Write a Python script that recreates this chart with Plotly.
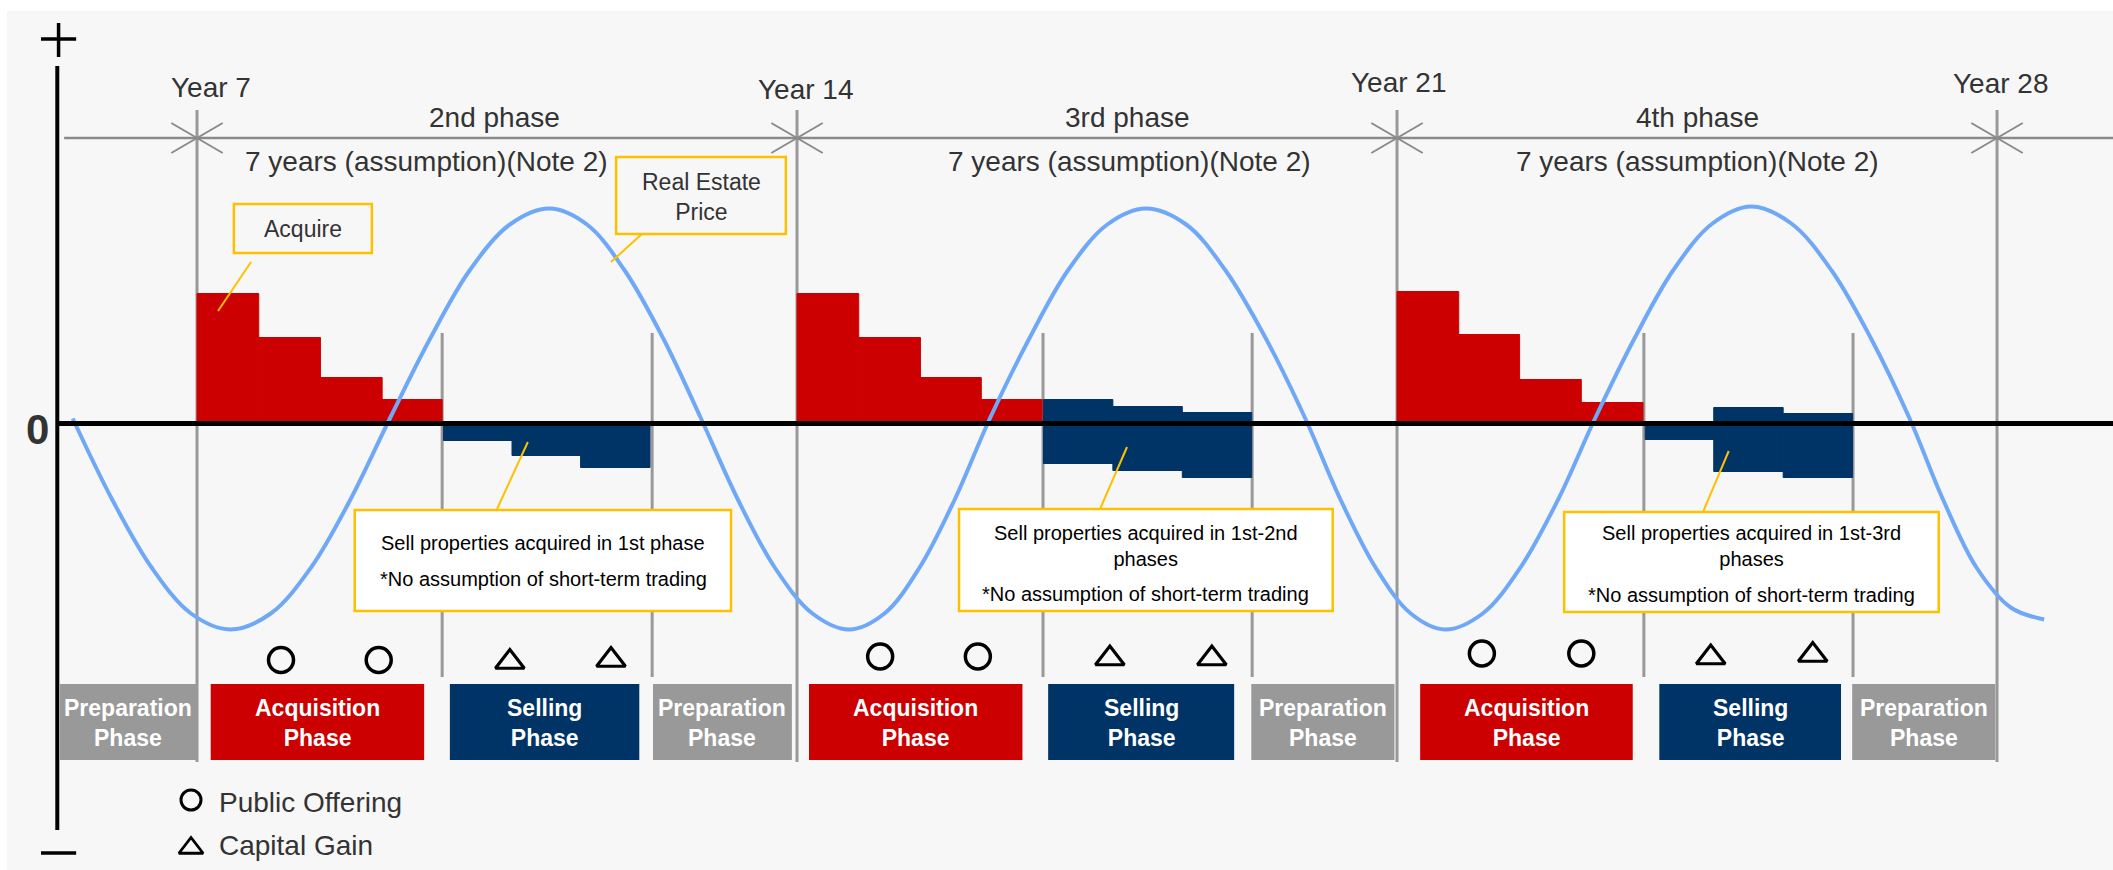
import plotly.graph_objects as go

# acquisitions (red bars), by year position on the timeline
acq_year = [7.36, 8.08, 8.80, 9.50, 14.36, 15.08, 15.79, 16.50, 21.36, 22.07, 22.79, 23.51]
acq_value = [1.30, 0.86, 0.46, 0.24, 1.30, 0.86, 0.46, 0.24, 1.32, 0.89, 0.44, 0.21]

# sales (navy bars) are floating: top and bottom of each block
sell_year = [10.28, 11.08, 11.88, 17.28, 18.09, 18.90, 24.30, 25.10, 25.91]
sell_top = [0, 0, 0, 0.24, 0.17, 0.11, 0, 0.16, 0.10]
sell_bottom = [-0.17, -0.32, -0.44, -0.40, -0.47, -0.54, -0.16, -0.48, -0.54]

# real estate price cycle
price_year = [5.55, 6.01, 6.47, 6.93, 7.39, 7.86, 8.33, 8.79, 9.25, 9.72, 10.18, 10.65,
              11.11, 11.55, 11.99, 12.44, 12.88, 13.31, 13.74, 14.18, 14.61, 15.02,
              15.43, 15.84, 16.25, 16.71, 17.16, 17.62, 18.07, 18.54, 19.00, 19.47,
              19.93, 20.34, 20.75, 21.16, 21.56, 22.00, 22.44, 22.88, 23.31, 23.77,
              24.22, 24.68, 25.13, 25.60, 26.07, 26.53, 26.98, 27.37, 27.76, 28.16, 28.55]
price_value = [0.05, -0.76, -1.44, -1.90, -2.06, -1.90, -1.44, -0.76, 0.05, 0.85, 1.53, 1.99,
               2.15, 1.99, 1.53, 0.85, 0.05, -0.76, -1.44, -1.90, -2.06, -1.90,
               -1.44, -0.76, 0.05, 0.85, 1.53, 1.99, 2.15, 1.99, 1.53, 0.85,
               0.05, -0.76, -1.44, -1.90, -2.06, -1.90, -1.44, -0.76, 0.05, 0.85,
               1.53, 2.00, 2.17, 2.00, 1.53, 0.85, 0.05, -0.76, -1.44, -1.84, -1.96]

# public offerings (circles) and capital gains (triangles)
offering_year = [7.98, 9.12, 14.97, 16.11, 21.99, 23.15]
offering_value = [-2.365, -2.365, -2.33, -2.33, -2.30, -2.30]
gain_year = [10.65, 11.83, 17.65, 18.84, 24.66, 25.85]
gain_value = [-2.385, -2.365, -2.35, -2.35, -2.34, -2.315]

milestone_year = [7, 14, 21, 28]
milestone_label = ["Year 7", "Year 14", "Year 21", "Year 28"]
milestone_height = [3.36, 3.345, 3.415, 3.405]
phase_label = ["2nd phase", "3rd phase", "4th phase"]
phase_center = [10.47, 17.85, 24.50]
duration_center = [9.68, 17.88, 24.50]
separator_year = [9.86, 12.31, 16.87, 19.31, 23.88, 26.32]

block_start = [5.40, 7.16, 9.95, 12.32, 14.14, 16.93, 19.30, 21.27, 24.06, 26.31]
block_end = [7.00, 9.65, 12.16, 13.94, 16.63, 19.10, 20.97, 23.75, 26.18, 27.98]
block_kind = ["prep", "acq", "sell", "prep", "acq", "sell", "prep", "acq", "sell", "prep"]

RED = "#CC0000"
NAVY = "#003366"
GREY = "#999999"
YELLOW = "#FFC000"
TEXT = "#333333"
FONT = "Liberation Sans, Arial, sans-serif"

block_color = {"prep": GREY, "acq": RED, "sell": NAVY}
block_text = {"prep": "Preparation<br>Phase", "acq": "Acquisition<br>Phase", "sell": "Selling<br>Phase"}

fig = go.Figure()

# thin outline in the fill colour hides the seams between neighbouring bars
fig.add_trace(go.Bar(x=acq_year, y=acq_value, width=0.72,
                     marker=dict(color=RED, line=dict(width=1, color=RED))))
fig.add_trace(go.Bar(x=sell_year,
                     y=[t - b for t, b in zip(sell_top, sell_bottom)],
                     base=sell_bottom, width=0.81,
                     marker=dict(color=NAVY, line=dict(width=1, color=NAVY))))
fig.add_trace(go.Scatter(x=price_year, y=price_value, mode="lines",
                         line=dict(color="#6FA8F7", width=4, shape="spline", smoothing=1.0)))
fig.add_trace(go.Scatter(x=offering_year, y=offering_value, mode="markers",
                         marker=dict(symbol="circle-open", size=25, color="black",
                                     line=dict(width=3.5))))
fig.add_trace(go.Scatter(x=gain_year, y=gain_value, mode="markers",
                         marker=dict(symbol="triangle-up-open", size=25, color="black",
                                     line=dict(width=3.2))))
# legend glyphs
fig.add_trace(go.Scatter(x=[6.93], y=[-3.765], mode="markers",
                         marker=dict(symbol="circle-open", size=20, color="black",
                                     line=dict(width=3))))
fig.add_trace(go.Scatter(x=[6.93], y=[-4.245], mode="markers",
                         marker=dict(symbol="triangle-up-open", size=21, color="black",
                                     line=dict(width=2.8))))

shapes = []


def line(x0, y0, x1, y1, color, width, layer="above"):
    shapes.append(dict(type="line", xref="x", yref="y", x0=x0, y0=y0, x1=x1, y1=y1,
                       line=dict(color=color, width=width), layer=layer))


def rect(x0, y0, x1, y1, fill, border=None, width=0, layer="above"):
    shapes.append(dict(type="rect", xref="x", yref="y", x0=x0, y0=y0, x1=x1, y1=y1,
                       fillcolor=fill, line=dict(color=border or fill, width=width),
                       layer=layer))


# vertical guide lines
for yr in milestone_year:
    line(yr, 3.135, yr, -3.385, GREY, 3, layer="below")
for yr in separator_year:
    line(yr, 0.905, yr, -2.535, GREY, 3, layer="below")

# dimension line with x marks
line(5.45, 2.855, 29.5, 2.855, "#8A8A8A", 2.5, layer="below")
for yr in milestone_year:
    line(yr - 0.30, 3.005, yr + 0.30, 2.705, "#8A8A8A", 2)
    line(yr - 0.30, 2.705, yr + 0.30, 3.005, "#8A8A8A", 2)

# axes drawn by hand
line(5.37, 0, 29.5, 0, "black", 5)
line(5.37, 3.575, 5.37, -4.065, "black", 4)
line(5.18, 3.845, 5.59, 3.845, "black", 3.5)
line(5.385, 4.005, 5.385, 3.665, "black", 3.5)
line(5.18, -4.295, 5.59, -4.295, "black", 3.5)

# callouts
rect(7.43, 2.195, 9.04, 1.705, "rgba(0,0,0,0)", YELLOW, 2.5)
line(7.63, 1.615, 7.245, 1.125, YELLOW, 2)
rect(11.89, 2.665, 13.87, 1.895, "rgba(0,0,0,0)", YELLOW, 2.5)
line(12.19, 1.895, 11.83, 1.615, YELLOW, 2)

rect(8.84, -0.865, 13.23, -1.875, "white", YELLOW, 2.5)
line(10.86, -0.185, 10.50, -0.855, YELLOW, 2)
rect(15.89, -0.855, 20.25, -1.875, "white", YELLOW, 2.5)
line(17.85, -0.235, 17.535, -0.855, YELLOW, 2)
rect(22.95, -0.885, 27.32, -1.885, "white", YELLOW, 2.5)
line(24.87, -0.275, 24.57, -0.885, YELLOW, 2)

# phase blocks
for s, e, k in zip(block_start, block_end, block_kind):
    rect(s, -2.605, e, -3.365, block_color[k])

annotations = []


def text(x, y, s, size, color=TEXT, bold=False, xanchor="center"):
    if bold:
        s = "<b>" + s + "</b>"
    annotations.append(dict(x=x, y=y, xref="x", yref="y", text=s, showarrow=False,
                            xanchor=xanchor, yanchor="middle",
                            font=dict(family=FONT, size=size, color=color)))


text(7.16, milestone_height[0], milestone_label[0], 28)
text(14.10, milestone_height[1], milestone_label[1], 28)
text(21.02, milestone_height[2], milestone_label[2], 28)
text(28.05, milestone_height[3], milestone_label[3], 28)
for xc, lab in zip(phase_center, phase_label):
    text(xc, 3.065, lab, 28)
for xc in duration_center:
    text(xc, 2.625, "7 years (assumption)(Note 2)", 28)

text(5.14, -0.055, "0", 42, bold=True)

text(8.24, 1.945, "Acquire", 23)
text(12.88, 2.27, "Real Estate<br>Price", 23)

text(11.04, -1.195, "Sell properties acquired in 1st phase", 20, color="black")
text(11.04, -1.555, "*No assumption of short-term trading", 20, color="black")
text(18.07, -1.22, "Sell properties acquired in 1st-2nd<br>phases", 20, color="black")
text(18.07, -1.705, "*No assumption of short-term trading", 20, color="black")
text(25.13, -1.225, "Sell properties acquired in 1st-3rd<br>phases", 20, color="black")
text(25.13, -1.715, "*No assumption of short-term trading", 20, color="black")

for s, e, k in zip(block_start, block_end, block_kind):
    text((s + e) / 2, -2.995, block_text[k], 23, color="white", bold=True)

text(7.23, -3.785, "Public Offering", 28, xanchor="left")
text(7.23, -4.215, "Capital Gain", 28, xanchor="left")

fig.update_layout(
    width=2113, height=870,
    margin=dict(l=7, r=0, t=11, b=0),
    paper_bgcolor="white",
    plot_bgcolor="#F7F7F7",
    barmode="overlay",
    showlegend=False,
    hovermode=False,
    xaxis=dict(range=[4.7833, 29.353], visible=False, fixedrange=True),
    yaxis=dict(range=[-4.465, 4.125], visible=False, fixedrange=True),
    shapes=shapes,
    annotations=annotations,
    font=dict(family=FONT),
)

# the page's default body margin would push the figure 8px in
fig.write_html("out.html", config={"displayModeBar": False},
               post_script="document.body.style.margin = '0';")
